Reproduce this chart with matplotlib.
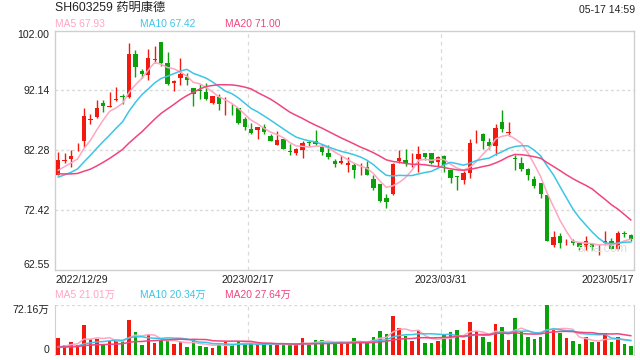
"""
K-line chart of SH603259 (药明康德), daily candles with MA lines and volume panel.
"""

import numpy as np
import pandas as pd
import matplotlib
matplotlib.use('Agg')
import matplotlib.pyplot as plt

plt.rcParams['font.family'] = ['Liberation Sans', 'Noto Sans CJK SC', 'DejaVu Sans']

# --- data ---
title = 'SH603259 药明康德'
stamp = '05-17 14:59'
date_ticks = ['2022/12/29', '2023/02/17', '2023/03/31', '2023/05/17']
price_ticks = [102.00, 92.14, 82.28, 72.42, 62.55]
vol_top = 72.16  # 万
ma_labels = ['MA5 67.93', 'MA10 67.42', 'MA20 71.00']
vol_ma_labels = ['MA5 21.01万', 'MA10 20.34万', 'MA20 27.64万']

opens = [78.18, 80.5, 80.73, 82.2, 83.72, 87.2, 87.7, 90.0, 89.4, 90.5,
         91.2, 91.03, 98.12, 95.35, 94.7, 97.2, 100.1, 96.57, 93.35, 94.2,
         94.35, 92.58, 92.1, 91.9, 90.03, 91.0, 89.0, 89.1, 89.15, 87.37,
         85.7, 85.6, 86.04, 84.6, 83.16, 84.05, 82.1, 81.83, 82.28, 83.5,
         83.83, 82.83, 81.83, 80.39, 80.06, 79.73, 79.84, 78.6, 79.4, 77.5,
         76.6, 74.41, 74.96, 80.39, 80.61, 79.9, 80.84, 81.72, 81.83, 80.28,
         81.28, 78.95, 77.9, 77.4, 78.4, 84.2, 84.94, 83.6, 82.94, 86.82,
         85.1, 80.9, 80.17, 79.17, 77.51, 76.85, 74.85, 66.65, 68.09, 67.05,
         67.32, 66.87, 66.32, 66.76, 66.05, 66.87, 67.32, 65.99, 68.45, 68.32]
highs = [82.0, 81.8, 82.2, 83.5, 89.26, 88.15, 90.6, 90.47, 91.8, 92.6,
         91.5, 100.0, 98.8, 95.7, 98.9, 99.5, 100.1, 98.45, 93.9, 97.45,
         95.0, 92.58, 93.1, 93.35, 91.25, 91.47, 91.1, 89.8, 89.26, 87.8,
         86.8, 86.15, 86.5, 84.9, 85.38, 84.05, 83.3, 82.6, 83.8, 83.8,
         85.5, 83.27, 83.16, 80.84, 81.4, 81.06, 80.06, 80.06, 80.5, 78.17,
         76.6, 75.08, 80.17, 82.28, 82.5, 81.8, 82.94, 81.83, 81.83, 81.28,
         81.5, 78.95, 77.95, 78.84, 84.05, 85.5, 85.16, 84.27, 86.5, 88.81,
         86.93, 81.5, 81.06, 79.28, 77.95, 76.85, 74.85, 68.98, 68.54, 67.65,
         67.65, 66.87, 68.09, 66.98, 66.76, 68.87, 67.76, 68.98, 68.87, 68.43]
lows = [78.1, 80.2, 79.4, 82.1, 82.7, 86.6, 87.6, 88.5, 89.4, 90.4,
        89.8, 90.9, 94.35, 94.1, 93.9, 96.6, 96.1, 93.0, 92.0, 92.97,
        92.97, 89.5, 90.7, 90.6, 89.9, 88.9, 88.1, 88.0, 86.5, 85.6,
        84.9, 84.05, 84.9, 83.7, 83.05, 82.4, 81.5, 81.5, 80.95, 82.95,
        83.16, 81.4, 80.84, 79.4, 79.95, 78.7, 77.7, 78.17, 78.07, 75.74,
        73.75, 72.64, 74.85, 80.17, 79.6, 79.5, 78.6, 80.6, 79.95, 79.4,
        78.6, 76.85, 75.74, 76.74, 77.73, 83.4, 82.4, 82.4, 81.5, 85.27,
        84.6, 78.95, 78.73, 77.4, 76.07, 74.3, 67.21, 66.32, 66.1, 66.65,
        66.65, 65.77, 65.77, 65.77, 64.99, 66.54, 65.88, 65.77, 67.98, 67.32]
closes = [80.61, 80.6, 81.28, 82.3, 87.82, 87.3, 89.26, 89.48, 89.5, 90.6,
          91.1, 98.12, 95.9, 94.8, 97.46, 97.35, 96.57, 93.25, 93.7, 94.9,
          93.8, 91.58, 92.0, 90.7, 91.14, 89.8, 89.1, 89.0, 86.8, 86.04,
          85.05, 86.04, 85.27, 83.8, 83.94, 82.5, 82.0, 82.5, 83.4, 83.4,
          83.27, 81.94, 81.06, 79.95, 80.39, 80.06, 78.95, 78.7, 78.17, 76.07,
          73.86, 73.75, 79.95, 80.95, 80.17, 80.0, 81.6, 81.06, 80.06, 81.06,
          79.73, 77.73, 77.84, 78.4, 83.5, 84.3, 83.83, 82.94, 85.93, 85.7,
          85.27, 80.8, 79.17, 78.07, 76.29, 74.96, 67.32, 67.87, 66.87, 67.1,
          66.99, 66.32, 67.32, 66.32, 66.1, 67.32, 65.99, 68.54, 68.4, 67.57]
volumes = [24.5, 14.0, 18.8, 14.0, 43.8, 23.6, 23.6, 14.0, 19.7, 20.7,
           19.7, 50.5, 33.2, 14.0, 29.3, 16.8, 21.6, 21.6, 15.9, 18.8,
           11.0, 23.6, 13.0, 12.0, 10.1, 14.9, 18.8, 14.9, 19.7, 16.8,
           16.8, 15.9, 15.9, 14.0, 14.9, 15.9, 14.9, 14.9, 24.5, 14.9,
           21.6, 21.6, 16.8, 17.8, 16.8, 17.8, 24.5, 17.8, 17.8, 26.5,
           34.2, 30.3, 56.3, 39.0, 27.4, 20.7, 36.0, 17.8, 17.8, 20.7,
           29.3, 33.2, 36.0, 21.6, 47.6, 34.2, 26.5, 18.8, 44.7, 40.9,
           21.6, 53.4, 33.2, 26.5, 23.6, 26.5, 72.16, 36.0, 32.2, 24.5,
           20.7, 15.9, 26.5, 18.8, 18.8, 32.2, 18.8, 26.5, 15.9, 13.0]

# sessions before 2022/12/29, only needed to start the moving averages
prev_closes = [81.5, 81.0, 80.8, 80.5, 80.5, 78.5, 77.5, 76.5, 76.3, 76.0,
               77.0, 77.0, 76.8, 76.3, 76.4, 77.5, 78.3, 79.0, 79.2]
prev_volumes = [12, 11, 13, 12, 10, 12, 11, 13, 12, 10,
                11, 12, 10, 11, 10, 9, 9, 8, 9.5]

RED = '#f21a0f'
GREEN = '#0ba10b'
MA_COLORS = ['#ffa6c1', '#3ec5e6', '#f0457e']
GRID = '#d9d9d9'
SPINE = '#cfcfcf'
TEXT = '#222222'


def moving_averages(prev, values):
    s = pd.Series(list(prev) + list(values), dtype=float)
    return [s.rolling(n).mean().to_numpy()[len(prev):] for n in (5, 10, 20)]


def main():
    o = np.array(opens)
    h = np.array(highs)
    lo = np.array(lows)
    c = np.array(closes)
    v = np.array(volumes)
    x = np.arange(len(c))
    colors = np.where(c >= o, RED, GREEN)
    n = len(c)
    xlim = (-0.5, n - 0.5)
    thirds = [xlim[0] + n / 3, xlim[0] + 2 * n / 3]

    fig = plt.figure(figsize=(6.4, 3.6), dpi=100)
    W, H = 640.0, 360.0
    ax = fig.add_axes([55 / W, 1 - 269.5 / H, 579 / W, 239 / H])
    axv = fig.add_axes([55 / W, 1 - 355 / H, 579 / W, 50 / H])

    # --- price panel ---
    ax.vlines(x, lo, h, colors=colors, linewidth=1, zorder=3)
    body = np.maximum(np.abs(c - o), 0.12)
    ax.bar(x, body, bottom=np.minimum(o, c), width=0.68, color=colors,
           linewidth=0, zorder=3)
    for ma, col in zip(moving_averages(prev_closes, closes), MA_COLORS):
        ax.plot(x, ma, color=col, linewidth=1.1, zorder=4)

    ax.set_xlim(*xlim)
    ax.set_ylim(price_ticks[-1], price_ticks[0])
    for y in price_ticks[1:-1]:
        ax.axhline(y, color=GRID, linewidth=1, linestyle=(0, (2, 2)), zorder=1)
    for xv in thirds:
        ax.axvline(xv, color=GRID, linewidth=0.9, linestyle=(0, (3, 3)), zorder=1)
    ax.set_yticks(price_ticks)
    ax.set_yticklabels([f'{p:.2f}' for p in price_ticks])
    ylabels = ax.get_yticklabels()
    ylabels[0].set_va('top')
    ylabels[-1].set_va('bottom')
    ax.set_xticks([xlim[0]] + thirds + [xlim[1]])
    ax.set_xticklabels(date_ticks)
    xlabels = ax.get_xticklabels()
    xlabels[0].set_ha('left')
    xlabels[-1].set_ha('right')
    ax.tick_params(length=0, labelsize=7.6, colors=TEXT, pad=4)
    ax.tick_params(axis='x', pad=4)
    for sp in ax.spines.values():
        sp.set_color(SPINE)
        sp.set_linewidth(1)
    ax.text(0.945, 0.085, 'sina.com', transform=ax.transAxes, ha='center',
            va='center', fontsize=9, color='#dedede', zorder=5)

    # --- volume panel ---
    axv.bar(x, v, width=0.55, color=colors, linewidth=0, zorder=3)
    for ma, col in zip(moving_averages(prev_volumes, volumes), MA_COLORS):
        axv.plot(x, ma, color=col, linewidth=1.1, zorder=4)
    axv.set_xlim(*xlim)
    axv.set_ylim(0, vol_top)
    axv.axhline(vol_top, color=GRID, linewidth=1, linestyle=(0, (2, 2)))
    for xv in thirds:
        axv.axvline(xv, color=GRID, linewidth=0.9, linestyle=(0, (3, 3)), zorder=1)
    axv.set_xticks([])
    axv.set_yticks([0, vol_top])
    axv.set_yticklabels(['0', f'{vol_top:.2f}万'])
    vlabels = axv.get_yticklabels()
    vlabels[0].set_va('bottom')
    vlabels[1].set_va('top')
    axv.tick_params(length=0, labelsize=7.6, colors=TEXT, pad=4)
    axv.spines['top'].set_visible(False)
    axv.spines['bottom'].set_visible(False)
    for side in ('left', 'right'):
        axv.spines[side].set_color(SPINE)

    # --- header texts ---
    fig.text(55 / W, 1 - 8 / H, title, fontsize=8.8, color=TEXT, va='center')
    fig.text(635 / W, 1 - 10 / H, stamp, fontsize=7.6, color=TEXT,
             va='center', ha='right')
    for xp, lab, col in zip((55, 140, 225), ma_labels, MA_COLORS):
        fig.text(xp / W, 1 - 24 / H, lab, fontsize=7.4, color=col, va='center')
    for xp, lab, col in zip((55, 140, 225), vol_ma_labels, MA_COLORS):
        fig.text(xp / W, 1 - 294.5 / H, lab, fontsize=7.4, color=col, va='center')

    fig.savefig('out.png', dpi=100, facecolor='white')
    plt.close(fig)


if __name__ == '__main__':
    main()
